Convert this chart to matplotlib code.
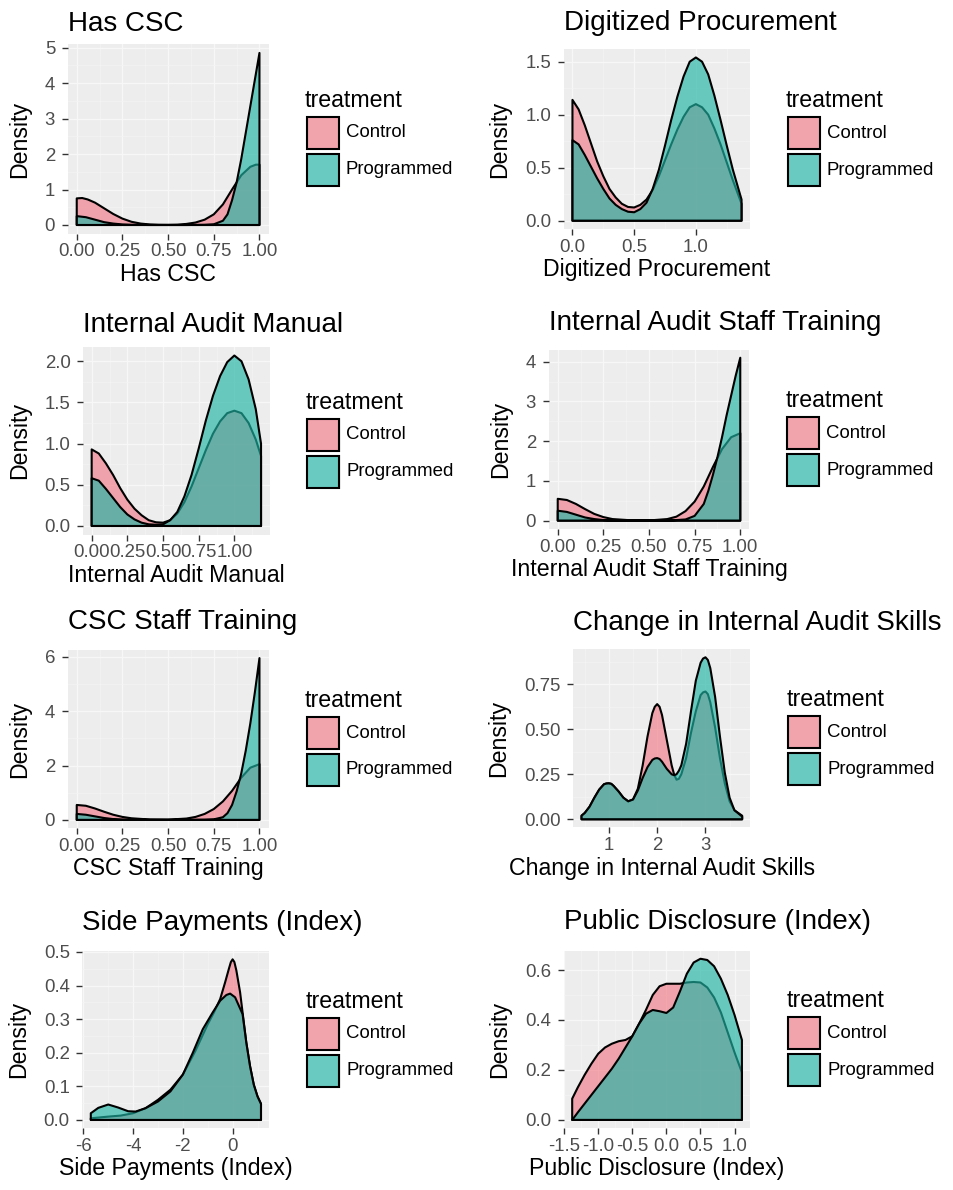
import matplotlib
matplotlib.use("Agg")
import matplotlib.pyplot as plt
from matplotlib.patches import Rectangle
from matplotlib.colors import to_rgba
from matplotlib.ticker import AutoMinorLocator

plt.rcParams['font.family'] = ['Liberation Sans', 'DejaVu Sans']

W, H = 954, 1190

# ---- data (density estimates per group) ----
titles = ["Has CSC", "Digitized Procurement", "Internal Audit Manual",
          "Internal Audit Staff Training", "CSC Staff Training",
          "Change in Internal Audit Skills", "Side Payments (Index)",
          "Public Disclosure (Index)"]
groups = ["Control", "Programmed"]

# Has CSC
p1_ctrl_x = [0, 0.03, 0.06, 0.1, 0.15, 0.2, 0.25, 0.3, 0.35, 0.4, 0.45, 0.5, 0.55, 0.6, 0.65, 0.7, 0.75, 0.8, 0.85, 0.875, 0.9, 0.95, 0.98, 1.0]
p1_ctrl_y = [0.75, 0.76, 0.72, 0.63, 0.47, 0.31, 0.18, 0.09, 0.04, 0.015, 0.005, 0.003, 0.008, 0.03, 0.07, 0.15, 0.3, 0.58, 1.0, 1.2, 1.4, 1.64, 1.7, 1.7]
p1_prog_x = [0, 0.05, 0.1, 0.15, 0.2, 0.25, 0.3, 0.4, 0.5, 0.6, 0.7, 0.75, 0.8, 0.825, 0.85, 0.875, 0.9, 0.925, 0.95, 0.975, 1.0]
p1_prog_y = [0.25, 0.22, 0.15, 0.08, 0.04, 0.015, 0.005, 0, 0, 0, 0.005, 0.02, 0.12, 0.3, 0.7, 1.2, 1.85, 2.6, 3.35, 4.1, 4.85]

# Digitized Procurement
p2_x = [0, 0.05, 0.1, 0.15, 0.2, 0.25, 0.3, 0.35, 0.4, 0.45, 0.5, 0.55, 0.6, 0.65, 0.7, 0.75, 0.8, 0.85, 0.9, 0.95, 1.0, 1.05, 1.1, 1.15, 1.2, 1.25, 1.3, 1.37]
p2_ctrl_y = [1.14, 1.05, 0.9, 0.73, 0.56, 0.42, 0.3, 0.22, 0.16, 0.13, 0.125, 0.15, 0.2, 0.29, 0.42, 0.57, 0.72, 0.86, 0.98, 1.07, 1.1, 1.07, 1.0, 0.87, 0.72, 0.55, 0.38, 0.16]
p2_prog_y = [0.76, 0.72, 0.62, 0.51, 0.4, 0.3, 0.21, 0.15, 0.11, 0.085, 0.08, 0.11, 0.17, 0.3, 0.48, 0.71, 0.95, 1.17, 1.36, 1.5, 1.54, 1.5, 1.38, 1.18, 0.95, 0.71, 0.48, 0.2]

# Internal Audit Manual
p3_x = [0, 0.05, 0.1, 0.15, 0.2, 0.25, 0.3, 0.35, 0.4, 0.45, 0.5, 0.55, 0.6, 0.65, 0.7, 0.75, 0.8, 0.85, 0.9, 0.95, 1.0, 1.05, 1.1, 1.15, 1.187]
p3_ctrl_y = [0.93, 0.88, 0.76, 0.62, 0.46, 0.32, 0.21, 0.13, 0.07, 0.045, 0.04, 0.07, 0.15, 0.29, 0.48, 0.7, 0.92, 1.12, 1.27, 1.37, 1.4, 1.37, 1.25, 1.05, 0.85]
p3_prog_y = [0.58, 0.55, 0.45, 0.34, 0.23, 0.14, 0.08, 0.04, 0.02, 0.015, 0.02, 0.07, 0.17, 0.36, 0.62, 0.94, 1.28, 1.58, 1.82, 1.99, 2.07, 2.0, 1.78, 1.42, 1.0]

# Internal Audit Staff Training
p4_ctrl_x = [0, 0.05, 0.1, 0.15, 0.2, 0.25, 0.3, 0.4, 0.5, 0.6, 0.65, 0.7, 0.75, 0.8, 0.85, 0.9, 0.95, 1.0]
p4_ctrl_y = [0.55, 0.52, 0.42, 0.29, 0.17, 0.09, 0.04, 0.01, 0.005, 0.04, 0.1, 0.24, 0.48, 0.86, 1.35, 1.8, 2.1, 2.2]
p4_prog_x = [0, 0.05, 0.1, 0.15, 0.2, 0.25, 0.3, 0.4, 0.5, 0.6, 0.7, 0.75, 0.8, 0.825, 0.85, 0.875, 0.9, 0.925, 0.95, 0.975, 1.0]
p4_prog_y = [0.25, 0.22, 0.15, 0.08, 0.04, 0.015, 0.005, 0, 0, 0, 0.03, 0.12, 0.42, 0.75, 1.15, 1.6, 2.1, 2.65, 3.15, 3.65, 4.1]

# CSC Staff Training
p5_ctrl_x = [0, 0.05, 0.1, 0.15, 0.2, 0.25, 0.3, 0.4, 0.5, 0.6, 0.65, 0.7, 0.75, 0.8, 0.85, 0.9, 0.95, 1.0]
p5_ctrl_y = [0.55, 0.52, 0.42, 0.3, 0.19, 0.11, 0.06, 0.015, 0.01, 0.05, 0.11, 0.22, 0.4, 0.68, 1.07, 1.55, 1.92, 2.05]
p5_prog_x = [0, 0.05, 0.1, 0.15, 0.2, 0.25, 0.3, 0.4, 0.5, 0.6, 0.7, 0.75, 0.8, 0.825, 0.85, 0.875, 0.9, 0.925, 0.95, 0.975, 1.0]
p5_prog_y = [0.22, 0.19, 0.13, 0.07, 0.03, 0.01, 0.003, 0, 0, 0, 0.005, 0.02, 0.1, 0.25, 0.55, 1.05, 1.7, 2.55, 3.55, 4.7, 5.95]

# Change in Internal Audit Skills
p6_x = [0.434, 0.5, 0.6, 0.7, 0.8, 0.9, 0.95, 1.0, 1.05, 1.1, 1.2, 1.3, 1.4, 1.5, 1.6, 1.7, 1.8, 1.9, 1.95, 2.0, 2.05, 2.1, 2.2, 2.3, 2.35, 2.4, 2.45, 2.5, 2.6, 2.7, 2.8, 2.9, 2.95, 3.0, 3.05, 3.1, 3.2, 3.3, 3.4, 3.5, 3.6, 3.76]
p6_ctrl_y = [0.02, 0.035, 0.07, 0.12, 0.165, 0.195, 0.199, 0.2, 0.197, 0.185, 0.155, 0.12, 0.1, 0.11, 0.17, 0.3, 0.46, 0.59, 0.625, 0.64, 0.625, 0.58, 0.44, 0.3, 0.25, 0.22, 0.225, 0.25, 0.34, 0.48, 0.6, 0.69, 0.705, 0.71, 0.695, 0.65, 0.51, 0.34, 0.2, 0.1, 0.05, 0.02]
p6_prog_y = [0.02, 0.035, 0.07, 0.12, 0.165, 0.195, 0.199, 0.2, 0.197, 0.185, 0.155, 0.12, 0.1, 0.11, 0.16, 0.23, 0.29, 0.33, 0.338, 0.34, 0.335, 0.32, 0.28, 0.25, 0.245, 0.25, 0.27, 0.3, 0.42, 0.6, 0.77, 0.87, 0.893, 0.9, 0.885, 0.84, 0.68, 0.46, 0.26, 0.12, 0.05, 0.015]

# Side Payments (Index)
p7_ctrl_x = [-5.7, -5.0, -4.5, -4.0, -3.5, -3.0, -2.5, -2.0, -1.5, -1.0, -0.75, -0.5, -0.3, -0.15, -0.07, 0.0, 0.07, 0.15, 0.3, 0.4, 0.55, 0.7, 0.85, 1.0, 1.14]
p7_ctrl_y = [0.005, 0.01, 0.013, 0.02, 0.035, 0.06, 0.09, 0.135, 0.205, 0.285, 0.32, 0.36, 0.41, 0.45, 0.47, 0.478, 0.47, 0.445, 0.38, 0.32, 0.23, 0.16, 0.105, 0.07, 0.048]
p7_prog_x = [-5.7, -5.4, -5.0, -4.6, -4.2, -3.9, -3.5, -3.0, -2.5, -2.0, -1.6, -1.2, -0.8, -0.5, -0.25, -0.1, 0.1, 0.25, 0.4, 0.55, 0.7, 0.85, 1.0, 1.14]
p7_prog_y = [0.02, 0.036, 0.046, 0.037, 0.026, 0.025, 0.035, 0.055, 0.085, 0.135, 0.2, 0.27, 0.32, 0.355, 0.372, 0.376, 0.365, 0.34, 0.315, 0.23, 0.16, 0.105, 0.07, 0.048]

# Public Disclosure (Index)
p8_x = [-1.382, -1.3, -1.2, -1.1, -1.0, -0.9, -0.8, -0.7, -0.6, -0.5, -0.4, -0.3, -0.2, -0.1, 0.0, 0.1, 0.2, 0.3, 0.4, 0.5, 0.6, 0.7, 0.8, 0.9, 1.0, 1.108]
p8_ctrl_y = [0.085, 0.13, 0.18, 0.225, 0.265, 0.29, 0.305, 0.315, 0.32, 0.335, 0.385, 0.44, 0.5, 0.535, 0.545, 0.545, 0.545, 0.55, 0.552, 0.55, 0.53, 0.49, 0.43, 0.35, 0.27, 0.19]
p8_prog_y = [0.0, 0.03, 0.065, 0.1, 0.135, 0.17, 0.205, 0.245, 0.29, 0.335, 0.385, 0.425, 0.44, 0.435, 0.428, 0.45, 0.515, 0.585, 0.63, 0.645, 0.64, 0.615, 0.565, 0.5, 0.42, 0.32]

series = [
    (p1_ctrl_x, p1_ctrl_y, p1_prog_x, p1_prog_y),
    (p2_x, p2_ctrl_y, p2_x, p2_prog_y),
    (p3_x, p3_ctrl_y, p3_x, p3_prog_y),
    (p4_ctrl_x, p4_ctrl_y, p4_prog_x, p4_prog_y),
    (p5_ctrl_x, p5_ctrl_y, p5_prog_x, p5_prog_y),
    (p6_x, p6_ctrl_y, p6_x, p6_prog_y),
    (p7_ctrl_x, p7_ctrl_y, p7_prog_x, p7_prog_y),
    (p8_x, p8_ctrl_y, p8_x, p8_prog_y),
]

xticks = [[0, 0.25, 0.5, 0.75, 1.0], [0, 0.5, 1.0], [0, 0.25, 0.5, 0.75, 1.0],
          [0, 0.25, 0.5, 0.75, 1.0], [0, 0.25, 0.5, 0.75, 1.0], [1, 2, 3],
          [-6, -4, -2, 0], [-1.5, -1.0, -0.5, 0.0, 0.5, 1.0]]
xticklabels = [["0.00", "0.25", "0.50", "0.75", "1.00"], ["0.0", "0.5", "1.0"],
               ["0.00", "0.25", "0.50", "0.75", "1.00"],
               ["0.00", "0.25", "0.50", "0.75", "1.00"],
               ["0.00", "0.25", "0.50", "0.75", "1.00"], ["1", "2", "3"],
               ["-6", "-4", "-2", "0"], ["-1.5", "-1.0", "-0.5", "0.0", "0.5", "1.0"]]
yticks = [[0, 1, 2, 3, 4, 5], [0, 0.5, 1.0, 1.5], [0, 0.5, 1.0, 1.5, 2.0],
          [0, 1, 2, 3, 4], [0, 2, 4, 6], [0, 0.25, 0.5, 0.75],
          [0, 0.1, 0.2, 0.3, 0.4, 0.5], [0, 0.2, 0.4, 0.6]]
yticklabels = [["0", "1", "2", "3", "4", "5"], ["0.0", "0.5", "1.0", "1.5"],
               ["0.0", "0.5", "1.0", "1.5", "2.0"], ["0", "1", "2", "3", "4"],
               ["0", "2", "4", "6"], ["0.00", "0.25", "0.50", "0.75"],
               ["0.0", "0.1", "0.2", "0.3", "0.4", "0.5"], ["0.0", "0.2", "0.4", "0.6"]]

# panel rectangles in pixels: left, top, right, bottom
panels = [(67.6, 44.3, 268.6, 233.6), (564, 49.3, 750, 228.9),
          (83.2, 347, 269.5, 534.5), (548.6, 349.6, 749.4, 528.8),
          (67.6, 650, 268.6, 828), (573.5, 649.2, 750.2, 827.4),
          (82.3, 951.3, 269.5, 1128), (563.7, 950.7, 750.4, 1128)]
title_base = [31, 30, 331.5, 330.5, 629, 630, 930, 929]

colors = ["#F2707F", "#1FB5A5"]
alphas = [0.6, 0.65]

fig = plt.figure(figsize=(W / 100, H / 100), dpi=100)


def fx(x):
    return x / W


def fy(y):
    return 1 - y / H


for i, (cx, cy, px_, py_) in enumerate(series):
    L, T, R, B = panels[i]
    ax = fig.add_axes([fx(L), fy(B), (R - L) / W, (B - T) / H])
    ax.set_facecolor("#EDEDED")

    for xs, ys, col, a in [(cx, cy, colors[0], alphas[0]), (px_, py_, colors[1], alphas[1])]:
        ax.fill([xs[0]] + xs + [xs[-1]], [0] + ys + [0],
                facecolor=to_rgba(col, a), edgecolor="black", linewidth=1.5,
                joinstyle="round", zorder=3)

    xmin = min(cx[0], px_[0])
    xmax = max(cx[-1], px_[-1])
    ymax = max(max(cy), max(py_))
    dx = (xmax - xmin) * 0.05
    ax.set_xlim(xmin - dx, xmax + dx)
    ax.set_ylim(-0.05 * ymax, 1.05 * ymax)

    ax.set_xticks(xticks[i])
    ax.set_xticklabels(xticklabels[i])
    ax.set_yticks(yticks[i])
    ax.set_yticklabels(yticklabels[i])
    ax.xaxis.set_minor_locator(AutoMinorLocator(2))
    ax.yaxis.set_minor_locator(AutoMinorLocator(2))
    ax.tick_params(which="minor", length=0)
    ax.tick_params(which="major", length=4, width=1.0, color="#333333",
                   labelcolor="#4D4D4D", labelsize=13.4)
    ax.tick_params(axis="x", pad=3)
    ax.tick_params(axis="y", pad=5)
    ax.set_axisbelow(True)
    ax.grid(which="major", color="#F7F7F7", linewidth=1.0)
    ax.grid(which="minor", color="#F4F4F4", linewidth=0.5)
    for s in ax.spines.values():
        s.set_visible(False)

    ax.set_xlabel(titles[i], fontsize=16.7, labelpad=2)
    ax.set_ylabel("Density", fontsize=16.7, labelpad=10)
    fig.text(fx(L), fy(title_base[i]), titles[i], fontsize=20,
             ha="left", va="baseline")

    # legend drawn by hand, ggplot style
    c = (T + B) / 2
    kl = R + 37
    fig.text(fx(kl - 1), fy(c - 32), "treatment", fontsize=16.7,
             ha="left", va="baseline")
    for j, g in enumerate(groups):
        top = c - 23 + j * 37
        fig.add_artist(Rectangle((fx(kl), fy(top + 34)), 34 / W, 34 / H,
                                 transform=fig.transFigure,
                                 facecolor="#F2F2F2", edgecolor="none"))
        fig.add_artist(Rectangle((fx(kl + 1), fy(top + 33)), 32 / W, 32 / H,
                                 transform=fig.transFigure,
                                 facecolor=to_rgba(colors[j], alphas[j]),
                                 edgecolor="black", linewidth=1.5))
        fig.text(fx(kl + 40), fy(top + 17), g, fontsize=13.4,
                 ha="left", va="center")

fig.savefig("out.png", dpi=100)
